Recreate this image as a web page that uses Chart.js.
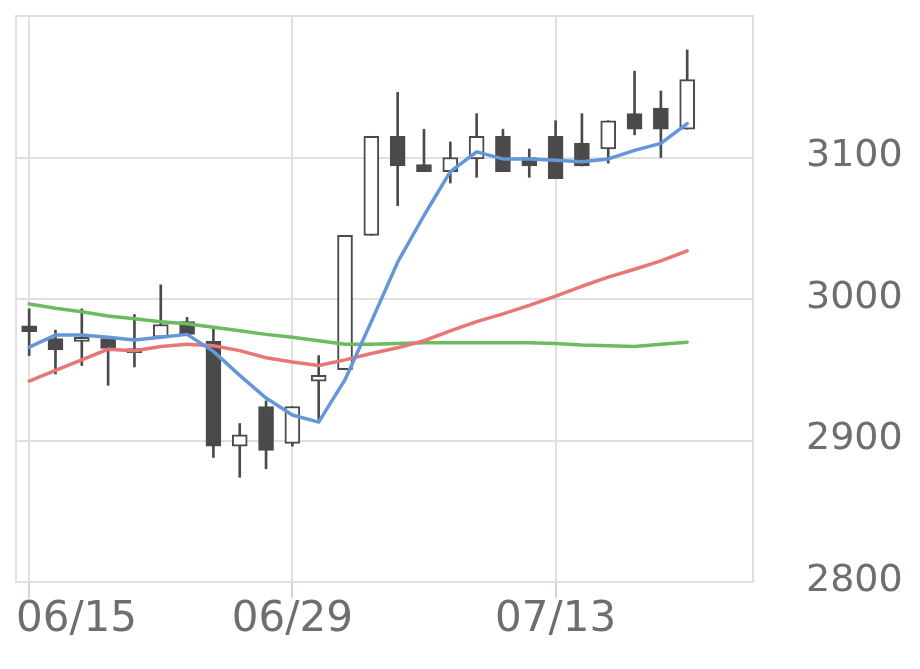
<!DOCTYPE html>
<html>
<head>
<meta charset="utf-8">
<script src="https://cdn.jsdelivr.net/npm/chart.js@4.4.1/dist/chart.umd.min.js"></script>
<style>
  html, body { margin: 0; padding: 0; background: #ffffff; }
  #c { display: block; }
</style>
</head>
<body>
<canvas id="c" width="920" height="669"></canvas>
<script>
// ---- data ----
const dates = ['06/15','06/16','06/17','06/18','06/19','06/22','06/23','06/24','06/25','06/26',
               '06/29','06/30','07/01','07/02','07/03','07/06','07/07','07/08','07/09','07/10',
               '07/13','07/14','07/15','07/16','07/17','07/20','07/21','07/22'];
const shownDates = ['06/15','06/29','07/13'];
const yTickValues = [2800, 2900, 3000, 3100];

const openPrices  = [2981,2972,2970,2972,2962,2973,2984,2970,2896,2924,2898,2942,2950,3045,3115,3095,3090,3099,3115,3100,3115,3110,3106,3131,3135,3120];
const highPrices  = [2993,2978,2993,2972,2989,3010,2987,2979,2912,2928,2924,2960,3045,3115,3146,3120,3111,3131,3120,3106,3126,3131,3126,3161,3147,3176];
const lowPrices   = [2960,2947,2953,2939,2952,2972,2975,2888,2874,2880,2896,2915,2950,3045,3066,3090,3082,3086,3090,3086,3085,3094,3096,3116,3100,3120];
const closePrices = [2977,2964,2973,2965,2965,2982,2975,2896,2904,2893,2924,2946,3045,3115,3094,3090,3100,3115,3090,3094,3085,3094,3126,3120,3120,3155];

const ma5  = [2966,2974.5,2974.5,2973,2971,2973,2975,2963,2946,2930,2918,2913,2943,2984,3026,3059,3090,3104,3099,3099,3098,3097,3099,3105,3110,3124];
const ma25 = [2942,2949.5,2957,2964.5,2963.5,2966.5,2968,2967,2963.5,2958.5,2955.5,2953,2957,2961.5,2965.5,2970.5,2977.5,2984,2989.5,2995.5,3002,3009,3015.5,3021,3027,3034];
const ma75 = [2996.5,2993.5,2991,2988,2986,2984,2982.5,2980,2977.5,2975,2973,2970.5,2968,2968,2968.5,2969,2969,2969,2969,2969,2968.5,2967.5,2967,2966.5,2968,2969.5];

// ---- styling ----
const DARK = '#4a4a4a';
const GRID = '#e0e0e0';
const TEXT = '#6b6e72';
const FONT = "'DejaVu Sans', 'Noto Sans', sans-serif";

const wickData = lowPrices.map((l, i) => [l, highPrices[i]]);
const bodyData = openPrices.map((o, i) => [o, closePrices[i]]);
const bodyFill = openPrices.map((o, i) => closePrices[i] >= o ? '#ffffff' : DARK);

const framePlugin = {
  id: 'frame',
  beforeDraw(chart) {
    const xs = chart.scales.x;
    const items = xs.getLabelItems(chart.chartArea);
    if (items && items.length) {
      items[0].options.textAlign = 'left';
      items[0].options.translation[0] = chart.chartArea.left;
    }
  },
  beforeDatasetsDraw(chart) {
    const { ctx, chartArea: a } = chart;
    ctx.save();
    ctx.strokeStyle = GRID;
    ctx.lineWidth = 2;
    ctx.strokeRect(a.left, a.top, a.right - a.left, a.bottom - a.top);
    ctx.restore();
  }
};

new Chart(document.getElementById('c'), {
  type: 'bar',
  data: {
    labels: dates,
    datasets: [
      { type: 'line', data: ma5, borderColor: '#6497d8', borderWidth: 3.5, pointRadius: 0, tension: 0, order: 0, borderJoinStyle: 'round', borderCapStyle: 'round' },
      { type: 'line', data: ma25, borderColor: '#e87676', borderWidth: 3.5, pointRadius: 0, tension: 0, order: 1, borderJoinStyle: 'round', borderCapStyle: 'round' },
      { type: 'line', data: ma75, borderColor: '#6bbb5f', borderWidth: 3.5, pointRadius: 0, tension: 0, order: 2, borderJoinStyle: 'round', borderCapStyle: 'round' },
      { type: 'bar', data: bodyData, backgroundColor: bodyFill, borderColor: DARK, borderWidth: 2, borderSkipped: false, barThickness: 15, grouped: false, order: 3 },
      { type: 'bar', data: wickData, backgroundColor: DARK, borderWidth: 0, barThickness: 2, grouped: false, order: 4 }
    ]
  },
  options: {
    responsive: false,
    devicePixelRatio: 1,
    animation: false,
    layout: { padding: { left: 16, top: 16, right: 0, bottom: 0 } },
    plugins: { legend: { display: false }, tooltip: { enabled: false } },
    scales: {
      x: {
        offset: true,
        grid: { offset: false, color: GRID, lineWidth: 2, tickColor: '#c8d4e8', tickLength: 16, tickWidth: 2 },
        border: { display: false },
        ticks: { autoSkip: false, maxRotation: 0, color: TEXT, font: { family: FONT, size: 42 }, padding: -3 },
        afterBuildTicks: s => { s.ticks = s.ticks.filter(t => shownDates.includes(dates[t.value])); },
        afterFit: s => { s.height = 87; s.paddingLeft = 0; s.paddingRight = 0; }
      },
      y: {
        position: 'right',
        min: 2800,
        max: 3200,
        grid: { color: GRID, lineWidth: 2, drawTicks: false },
        border: { display: false },
        ticks: { color: TEXT, font: { family: FONT, size: 38 }, padding: 53, labelOffset: -1, callback: v => String(v) },
        afterBuildTicks: s => { s.ticks = yTickValues.map(v => ({ value: v })); },
        afterFit: s => { s.width = 167; s.paddingTop = 0; s.paddingBottom = 0; }
      }
    }
  },
  plugins: [framePlugin]
});
</script>
</body>
</html>
